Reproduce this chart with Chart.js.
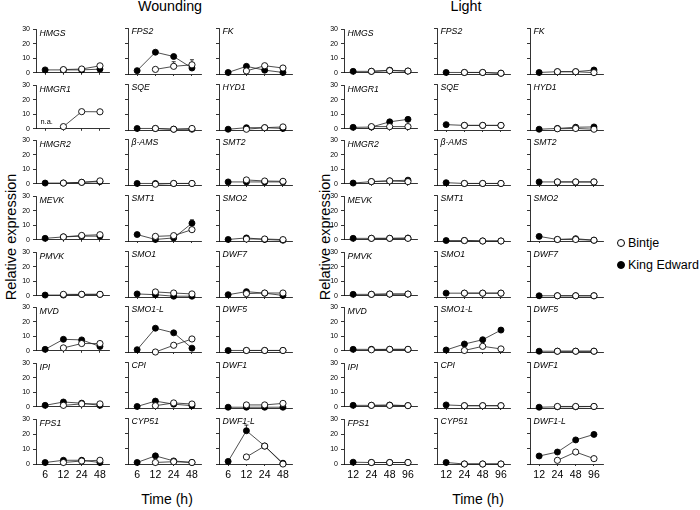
<!DOCTYPE html>
<html lang="en">
<head>
<meta charset="utf-8">
<script src="https://cdn.jsdelivr.net/npm/chart.js"></script>
<style>
    body {
        margin: 0;
        background: #ffffff;
        font-family: "Liberation Sans", Arial, sans-serif;
    }
    #stage {
        position: relative;
        width: 700px;
        height: 510px;
        overflow: hidden;
    }
    #stage canvas {
        position: absolute;
    }
    .txt {
        position: absolute;
        white-space: nowrap;
        color: #000;
    }
    .dot {
        position: absolute;
        width: 8px;
        height: 8px;
        border-radius: 50%;
        box-sizing: border-box;
        border: 1px solid #000;
    }
</style>
</head>
<body>
<div id="stage">
    <div class="txt" style="left:170px; top:-1px; font-size:14.3px; line-height:14.3px; transform:translateX(-50%);">Wounding</div>
    <div class="txt" style="left:466px; top:-1px; font-size:14.3px; line-height:14.3px; transform:translateX(-50%);">Light</div>
    <div class="txt" style="left:167px; top:492px; font-size:14px; line-height:14px; transform:translateX(-50%);">Time (h)</div>
    <div class="txt" style="left:478px; top:492px; font-size:14px; line-height:14px; transform:translateX(-50%);">Time (h)</div>
    <div class="txt" style="left:11px; top:237px; font-size:14.5px; line-height:14.5px; transform:translate(-50%,-50%) rotate(-90deg);">Relative expression</div>
    <div class="txt" style="left:325px; top:237px; font-size:14.5px; line-height:14.5px; transform:translate(-50%,-50%) rotate(-90deg);">Relative expression</div>
    <div class="dot" style="left:617px; top:239px; background:#fff;"></div>
    <div class="txt" style="left:628px; top:237px; font-size:12.5px; line-height:12.5px;">Bintje</div>
    <div class="dot" style="left:617px; top:261px; background:#000;"></div>
    <div class="txt" style="left:628px; top:259px; font-size:12.5px; line-height:12.5px;">King Edward</div>
</div>
<script>
    // time points (x tick labels) and y ticks
    const woundTimes = ['6', '12', '24', '48'];
    const lightTimes = ['12', '24', '48', '96'];
    const yTicks = [0, 10, 20, 30];

    // panel names, row by row (3 per row)
    const genes = [
        'HMGS', 'FPS2', 'FK',
        'HMGR1', 'SQE', 'HYD1',
        'HMGR2', 'β-AMS', 'SMT2',
        'MEVK', 'SMT1', 'SMO2',
        'PMVK', 'SMO1', 'DWF7',
        'MVD', 'SMO1-L', 'DWF5',
        'IPI', 'CPI', 'DWF1',
        'FPS1', 'CYP51', 'DWF1-L'
    ];

    // Wounding - King Edward (filled)
    const woundKE = [
        [2, 2, 2, 2.5], [2.2, 14.2, 11.4, 3.9], [1, 5, 2.5, 1],
        [null, null, null, null], [1, 1, 0.5, 0.5], [0.5, 1.5, 1.5, 1],
        [0.5, 0.5, 1, 1.5], [1, 1, 1, 1], [2, 2, 2, 2],
        [1, 2, 2.5, 2.5], [4.2, 1, 2, 11.6], [1, 2, 1, 0.5],
        [0.5, 0.5, 1, 1], [2, 1.5, 0.5, 0.5], [1.5, 3.5, 2.5, 1],
        [1, 7.9, 7.5, 3], [1.5, 15.5, 12.5, 2.5], [1, 1, 1, 1],
        [1, 3.3, 2.5, 1], [1, 4.5, 2.5, 1.5], [0.5, 0.5, 0.5, 0.5],
        [1, 2.5, 2.5, 1], [1, 5.3, 2, 1], [1.7, 21.7, 11.7, 0.5]
    ];

    // Wounding - Bintje (open)
    const woundBintje = [
        [null, 2.2, 2.6, 4.8], [null, 3, 5, 6], [null, 2, 5.4, 3.9],
        [null, 1.5, 11.8, 11.7], [null, 1, 0.5, 1], [null, 0.5, 1.5, 2],
        [null, 0.5, 1, 2], [null, 0.5, 1, 1], [null, 3.3, 2.6, 2.4],
        [null, 2, 3, 3.5], [null, 3, 3.5, 7.4], [null, 1.3, 1.3, 0.9],
        [null, 1, 1, 1], [null, 3.3, 2.6, 2], [null, 2.2, 2.6, 2.6],
        [null, 2, 5, 5], [null, 0, 4.4, 8.5], [null, 1, 1, 1],
        [null, 1, 2, 2], [null, 1.5, 3.3, 2.6], [null, 2, 2, 3],
        [null, 1, 2, 2.5], [null, 1, 1.5, 1], [null, 4.6, 11.7, 0]
    ];

    // Light - King Edward (filled)
    const lightKE = [
        [1, 1, 1.8, 1.2], [1, 1, 1, 0.5], [1, 1.5, 1.5, 2.6],
        [1, 1.2, 4.8, 6.5], [3.5, 3, 3, 3], [0.5, 1, 1.8, 2],
        [0.5, 1.5, 2, 2.5], [1.5, 1, 1, 1], [2, 2, 2, 2],
        [1, 1, 1, 1.2], [0.3, 0.3, 0, 0], [3, 1, 1.5, 0.5],
        [1, 1, 1.2, 1.2], [2.5, 2.5, 2.5, 2.5], [0.8, 0.8, 0.8, 0.8],
        [1, 1, 1, 1], [1.3, 5.2, 8, 14.3], [0.5, 0.5, 0.5, 0.5],
        [1, 1, 1.2, 0.8], [2, 1.5, 1.5, 1.5], [0.5, 0.8, 0.8, 1],
        [1.2, 1, 1, 1], [1, 0, 0, 0], [5.2, 7.8, 15.7, 19.3]
    ];

    // Light - Bintje (open)
    const lightBintje = [
        [null, 1, 1.5, 1.2], [null, 1, 1, 0.5], [null, 1.5, 1.5, 0.9],
        [null, 1.5, 1.5, 1.5], [null, 3, 3, 3], [null, 0.8, 1, 0.5],
        [null, 1.5, 2, 1.5], [null, 1, 1, 1], [null, 2, 2, 2],
        [null, 1, 1, 1], [null, 0.3, 0, 0], [null, 1, 1, 0.5],
        [null, 1, 1.2, 1.2], [null, 2.5, 2.5, 2.5], [null, 0.8, 0.8, 0.8],
        [null, 0.7, 1, 1], [null, 1, 3.7, 2], [null, 0.5, 0.5, 0.5],
        [null, 1, 1, 0.8], [null, 1.5, 1.5, 1.5], [null, 1, 1, 1],
        [null, 1, 1, 1], [null, 0, 0, 0], [null, 2.4, 7.8, 3.5]
    ];

    // error bars: [panel, series, time index, SE]
    const woundErrors = [
        [1, 'Bintje', 2, 3], [1, 'Bintje', 3, 3.3],
        [10, 'KE', 3, 2.2], [23, 'KE', 1, 3.7]
    ];
    const lightErrors = [];

    const FONT = '"Liberation Sans", Arial, sans-serif';
    const stage = document.getElementById('stage');

    // gene label, n.a. note and error bars
    const panelDeco = {
        id: 'panelDeco',
        afterDatasetsDraw(chart, args, opts) {
            const ctx = chart.ctx;
            const area = chart.chartArea;
            const ys = chart.scales.y;
            ctx.save();
            ctx.strokeStyle = '#000';
            ctx.lineWidth = 0.8;
            opts.errors.forEach(([ds, idx, err]) => {
                const pt = chart.getDatasetMeta(ds).data[idx];
                const v = chart.data.datasets[ds].data[idx];
                const top = ys.getPixelForValue(v + err);
                ctx.beginPath();
                ctx.moveTo(pt.x, pt.y - 3);
                ctx.lineTo(pt.x, top);
                ctx.moveTo(pt.x - 2, top);
                ctx.lineTo(pt.x + 2, top);
                ctx.stroke();
            });
            ctx.fillStyle = '#000';
            ctx.textBaseline = 'alphabetic';
            ctx.font = 'italic 8.7px ' + FONT;
            ctx.fillText(opts.gene, area.left + 3.5, area.top + 6.3);
            if (opts.na) {
                ctx.font = '7.4px ' + FONT;
                ctx.textAlign = 'center';
                ctx.fillText('n.a.', chart.scales.x.getPixelForValue(0) + 1.5, area.bottom - 4.7);
            }
            ctx.restore();
        }
    };

    function buildPanel(cfg) {
        const xh = cfg.showX ? 24 : 6;
        const canvas = document.createElement('canvas');
        canvas.width = 100;
        canvas.height = 6 + 46 + xh;
        canvas.style.left = (cfg.axisX - 22) + 'px';
        canvas.style.top = (cfg.zero - 52) + 'px';
        stage.appendChild(canvas);

        const errs = cfg.errors.map(e => [e[1] === 'Bintje' ? 0 : 1, e[2], e[3]]);
        const na = cfg.ke.every(v => v === null);

        new Chart(canvas, {
            type: 'line',
            data: {
                labels: cfg.labels,
                datasets: [
                    {
                        label: 'Bintje',
                        data: cfg.bintje,
                        borderColor: '#222',
                        borderWidth: 0.8,
                        pointRadius: 3.1,
                        pointBackgroundColor: '#fff',
                        pointBorderColor: '#000',
                        pointBorderWidth: 0.9,
                        clip: false
                    },
                    {
                        label: 'King Edward',
                        data: cfg.ke,
                        borderColor: '#222',
                        borderWidth: 0.8,
                        pointRadius: 3,
                        pointBackgroundColor: '#000',
                        pointBorderColor: '#000',
                        pointBorderWidth: 0.9,
                        clip: false
                    }
                ]
            },
            options: {
                responsive: false,
                animation: false,
                events: [],
                layout: { padding: { left: 0, top: 6, right: 4, bottom: 0 } },
                plugins: {
                    legend: { display: false },
                    tooltip: { enabled: false },
                    panelDeco: { gene: cfg.gene, na: na, errors: errs }
                },
                scales: {
                    x: {
                        offset: true,
                        grid: { drawOnChartArea: false, drawTicks: true, tickLength: 2, color: '#000', lineWidth: 0.8, offset: false },
                        border: { display: true, color: '#000', width: 0.8 },
                        ticks: { display: cfg.showX, color: '#000', font: { size: 10.5, family: FONT }, padding: 3, maxRotation: 0, autoSkip: false },
                        afterFit: s => { s.height = xh; }
                    },
                    y: {
                        min: yTicks[0],
                        max: yTicks[yTicks.length - 1],
                        grid: { drawOnChartArea: false, drawTicks: true, tickLength: 3, color: '#000', lineWidth: 0.8 },
                        border: { display: true, color: '#000', width: 0.8 },
                        ticks: { display: cfg.showY, stepSize: yTicks[1] - yTicks[0], color: '#000', font: { size: 7, family: FONT }, padding: 3 },
                        afterFit: s => { s.width = 22; }
                    }
                }
            },
            plugins: [panelDeco]
        });
    }

    const groups = [
        { cols: [36, 128, 219], labels: woundTimes, ke: woundKE, bintje: woundBintje, errors: woundErrors },
        { cols: [344, 437, 530], labels: lightTimes, ke: lightKE, bintje: lightBintje, errors: lightErrors }
    ];

    groups.forEach(g => {
        genes.forEach((gene, i) => {
            const row = Math.floor(i / 3);
            const col = i % 3;
            buildPanel({
                axisX: g.cols[col],
                zero: 74 + row * 55.67,
                labels: g.labels,
                gene: gene,
                ke: g.ke[i],
                bintje: g.bintje[i],
                errors: g.errors.filter(e => e[0] === i),
                showX: row === 7,
                showY: col === 0
            });
        });
    });
</script>
</body>
</html>
